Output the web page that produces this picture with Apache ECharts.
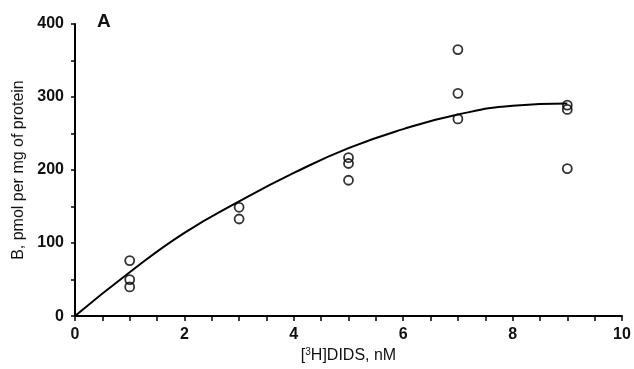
<!DOCTYPE html>
<html>
<head>
<meta charset="utf-8">
<script src="https://cdn.jsdelivr.net/npm/echarts@6/dist/echarts.min.js"></script>
<style>html,body{margin:0;padding:0;background:#fff}#c{width:634px;height:369px}</style>
</head>
<body>
<div id="c"></div>
<script>
// Observed data points: [3H]DIDS (nM) vs B (pmol per mg of protein)
const obsX = [1, 1, 1, 3, 3, 5, 5, 5, 7, 7, 7, 9, 9, 9];
const obsY = [76, 50, 40, 149, 133, 217, 209, 186, 365, 305, 270, 289, 283, 202];
// Fitted curve
const fitX = [0, 1, 2, 3, 4, 5, 6, 7, 8, 9];
const fitY = [0, 60, 114, 157, 196, 230, 256, 276, 288, 291];
const xTicks = [0, 2, 4, 6, 8, 10];
const yTicks = [0, 100, 200, 300, 400];

const chart = echarts.init(document.getElementById('c'), null, {renderer: 'canvas'});
const font = 'Liberation Sans, Arial, Helvetica, sans-serif';
chart.setOption({
  animation: false,
  backgroundColor: '#fff',
  grid: {left: 75, right: 12, top: 24, bottom: 47},
  xAxis: {
    type: 'value', min: xTicks[0], max: xTicks[xTicks.length - 1], interval: 2,
    name: '[{sup|3}H]DIDS, nM', nameLocation: 'middle', nameGap: 27,
    nameTextStyle: {fontFamily: font, fontSize: 16, color: '#111',
      rich: {sup: {fontSize: 10, verticalAlign: 'top', padding: [0,0,8,0], fontFamily: font, color: '#111'}}},
    axisLine: {lineStyle: {color: '#000', width: 2}},
    axisTick: {show: true, length: 5, lineStyle: {color: '#000', width: 1.5}},
    minorTick: {show: true, splitNumber: 4, length: 5, lineStyle: {color: '#000', width: 1.5}},
    axisLabel: {fontFamily: font, fontSize: 16, fontWeight: 'bold', color: '#111', margin: 10},
    splitLine: {show: false}
  },
  yAxis: {
    type: 'value', min: yTicks[0], max: yTicks[yTicks.length - 1], interval: 100,
    name: 'B, pmol per mg of protein', nameLocation: 'middle', nameGap: 45,
    nameTextStyle: {fontFamily: font, fontSize: 16, color: '#111'},
    axisLine: {show: true, lineStyle: {color: '#000', width: 2}},
    axisTick: {show: true, length: 4, lineStyle: {color: '#000', width: 1.5}},
    minorTick: {show: true, splitNumber: 2, length: 4, lineStyle: {color: '#000', width: 1.5}},
    axisLabel: {fontFamily: font, fontSize: 16, fontWeight: 'bold', color: '#111', margin: 11},
    splitLine: {show: false}
  },
  graphic: [{
    type: 'text', left: 97, top: 12,
    style: {text: 'A', fontFamily: font, fontSize: 19, fontWeight: 'bold', fill: '#111'}
  }],
  series: [{
    type: 'line',
    data: fitX.map((x, i) => [x, fitY[i]]),
    smooth: true, showSymbol: false,
    lineStyle: {color: '#000', width: 2}
  }, {
    type: 'scatter',
    data: obsX.map((x, i) => [x, obsY[i]]),
    symbol: 'circle', symbolSize: 9,
    itemStyle: {color: 'rgba(255,255,255,0)', borderColor: '#000', borderWidth: 1.8}
  }]
});
</script>
</body>
</html>
